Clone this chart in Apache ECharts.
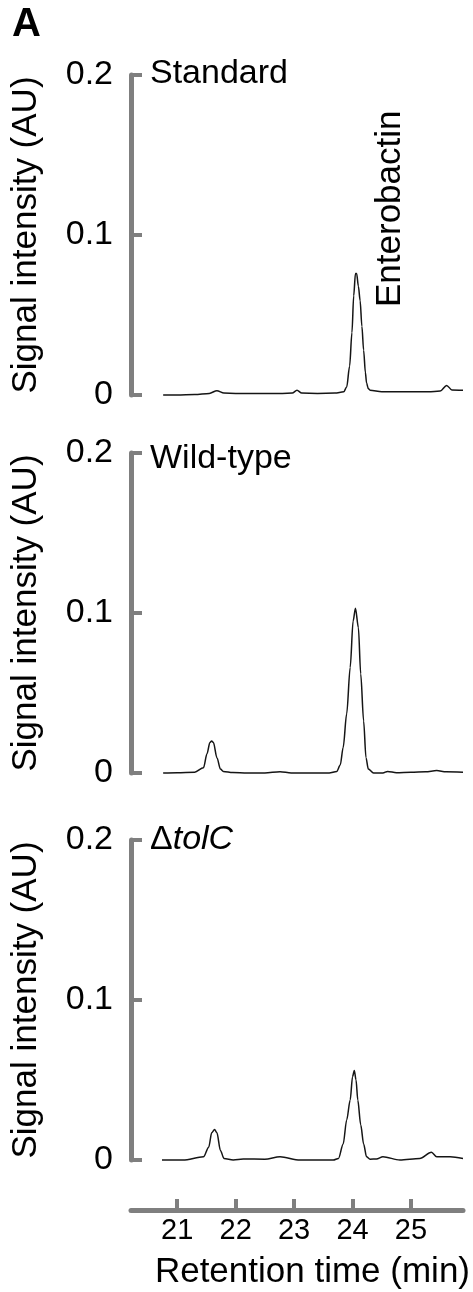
<!DOCTYPE html>
<html>
<head>
<meta charset="utf-8">
<script src="https://cdn.jsdelivr.net/npm/echarts@6/dist/echarts.min.js"></script>
<style>
html,body{margin:0;padding:0;background:#fff;}
#chart{width:473px;height:1292px;}
</style>
</head>
<body>
<div id="chart"></div>
<script>
// ---- data (retention time in min, signal in AU) ----
const panelNames = ['Standard', 'Wild-type', 'ΔtolC'];
const xTicks = [21, 22, 23, 24, 25];
const yTicks = [0, 0.1, 0.2];

const timesStandard = [20.76, 21.0, 21.3, 21.55, 21.68, 21.8, 22.0, 22.4, 22.8, 22.97, 23.05, 23.13, 23.4, 23.7, 23.85, 23.90, 23.95, 23.99, 24.02, 24.05, 24.07, 24.10, 24.13, 24.16, 24.19, 24.22, 24.24, 24.27, 24.30, 24.5, 24.9, 25.3, 25.5, 25.61, 25.7, 25.89];
const valuesStandard = [0.000, 0.000, 0.0003, 0.001, 0.0027, 0.0012, 0.001, 0.001, 0.001, 0.0012, 0.003, 0.0012, 0.001, 0.0012, 0.002, 0.005, 0.018, 0.039, 0.062, 0.076, 0.076, 0.068, 0.059, 0.043, 0.028, 0.014, 0.0075, 0.004, 0.003, 0.002, 0.002, 0.002, 0.0025, 0.006, 0.0032, 0.003];

const timesWildType = [20.76, 21.0, 21.3, 21.45, 21.51, 21.56, 21.59, 21.62, 21.68, 21.74, 21.79, 21.95, 22.2, 22.5, 22.76, 22.95, 23.3, 23.6, 23.73, 23.79, 23.84, 23.90, 23.96, 24.01, 24.05, 24.10, 24.14, 24.19, 24.23, 24.27, 24.36, 24.52, 24.6, 24.75, 25.0, 25.25, 25.44, 25.6, 25.89];
const valuesWildType = [0.0, 0.0002, 0.0005, 0.0033, 0.012, 0.019, 0.020, 0.019, 0.0096, 0.0025, 0.001, 0.0003, 0.0, 0.0, 0.0008, 0.0, 0.0, 0.0, 0.001, 0.005, 0.016, 0.037, 0.066, 0.095, 0.103, 0.091, 0.062, 0.0325, 0.0096, 0.0025, 0.0, 0.0, 0.001, 0.0002, 0.0005, 0.0008, 0.0015, 0.0008, 0.0005];

const timesTolC = [20.74, 21.1, 21.45, 21.54, 21.59, 21.64, 21.68, 21.74, 21.80, 21.96, 22.13, 22.5, 22.76, 23.1, 23.67, 23.76, 23.84, 23.90, 23.96, 24.00, 24.03, 24.06, 24.09, 24.14, 24.19, 24.24, 24.30, 24.41, 24.52, 24.81, 25.15, 25.35, 25.44, 25.67, 25.89];
const valuesTolC = [0.0, 0.0, 0.002, 0.008, 0.017, 0.019, 0.017, 0.006, 0.001, 0.0, 0.0006, 0.0005, 0.002, 0.0, 0.0, 0.001, 0.010, 0.025, 0.0375, 0.052, 0.056, 0.050, 0.0375, 0.022, 0.010, 0.002, 0.0005, 0.0006, 0.002, 0.0, 0.001, 0.0048, 0.002, 0.002, 0.001];

// ---- build ----
const zip = (t, v) => t.map((x, i) => [x, v[i]]);
const seriesData = [
  zip(timesStandard, valuesStandard),
  zip(timesWildType, valuesWildType),
  zip(timesTolC, valuesTolC)
];

const FONT = "'Liberation Sans', Arial, Helvetica, sans-serif";
const GRAY = '#7f7f7f';
const X_MIN = 20.21, X_MAX = 25.89;
const gridTops = [75, 453, 840];
const gridH = 320;

const chart = echarts.init(document.getElementById('chart'), null, {renderer: 'canvas'});

const grids = gridTops.map(t => ({left: 131, right: 10, top: t, height: gridH, containLabel: false}));

const xAxes = [0, 1, 2].map(i => {
  const base = {type: 'value', gridIndex: i, min: X_MIN, max: X_MAX, splitLine: {show: false}};
  if (i < 2) return Object.assign(base, {show: false});
  return Object.assign(base, {
    show: true,
    position: 'bottom',
    offset: 50,
    axisLine: {show: true, onZero: false, lineStyle: {color: GRAY, width: 5}},
    axisTick: {show: true, inside: true, length: 11, lineStyle: {color: GRAY, width: 4}, customValues: xTicks},
    axisLabel: {show: true, customValues: xTicks, fontSize: 29, color: '#000', fontFamily: FONT, margin: 6}
  });
});

const yAxes = [0, 1, 2].map(i => ({
  type: 'value', gridIndex: i, min: yTicks[0], max: yTicks[yTicks.length - 1], interval: 0.1,
  axisLine: {show: true, onZero: false, lineStyle: {color: GRAY, width: 5}},
  axisTick: {show: true, inside: true, length: 11, lineStyle: {color: GRAY, width: 4}},
  axisLabel: {show: true, fontSize: 34, color: '#000', fontFamily: FONT, margin: 18,
    formatter: v => (v === 0 ? '0' : v.toFixed(1))},
  splitLine: {show: false},
  name: 'Signal intensity (AU)', nameLocation: 'middle', nameGap: 87,
  nameTextStyle: {fontSize: 35, color: '#000', fontFamily: FONT}
}));

const series = seriesData.map((d, i) => ({
  type: 'line', xAxisIndex: i, yAxisIndex: i, data: d,
  showSymbol: false, symbol: 'none', smooth: 0.3, smoothMonotone: 'x',
  lineStyle: {color: '#151515', width: 1.5}, silent: true, animation: false, clip: false
}));

const titles = [
  {text: 'A', left: 12, top: 5, padding: 0, textStyle: {fontSize: 40, fontWeight: 'bold', color: '#000', fontFamily: FONT}},
  {text: panelNames[0], left: 150, top: 57, padding: 0, textStyle: {fontSize: 34, fontWeight: 'normal', color: '#000', fontFamily: FONT}},
  {text: panelNames[1], left: 150, top: 442, padding: 0, textStyle: {fontSize: 34, fontWeight: 'normal', color: '#000', fontFamily: FONT}},
  {text: '{n|Δ}{i|tolC}', left: 150, top: 823, padding: 0, textStyle: {fontSize: 34, fontWeight: 'normal', color: '#000', fontFamily: FONT,
    rich: {n: {fontSize: 34, fontWeight: 'normal', color: '#000', fontFamily: FONT}, i: {fontSize: 34, fontWeight: 'normal', fontStyle: 'italic', color: '#000', fontFamily: FONT}}}},
  {text: 'Retention time (min)', right: 3, top: 1255, padding: 0, textStyle: {fontSize: 35, fontWeight: 'normal', color: '#000', fontFamily: FONT}}
];

chart.setOption({
  backgroundColor: '#fff',
  animation: false,
  title: titles,
  grid: grids,
  xAxis: xAxes,
  yAxis: yAxes,
  series: series,
  graphic: [{
    type: 'text', x: 408, y: 307, rotation: Math.PI / 2, silent: true,
    style: {text: 'Enterobactin', font: '35px ' + FONT, fill: '#000', align: 'left', verticalAlign: 'bottom'}
  }]
});
</script>
</body>
</html>
